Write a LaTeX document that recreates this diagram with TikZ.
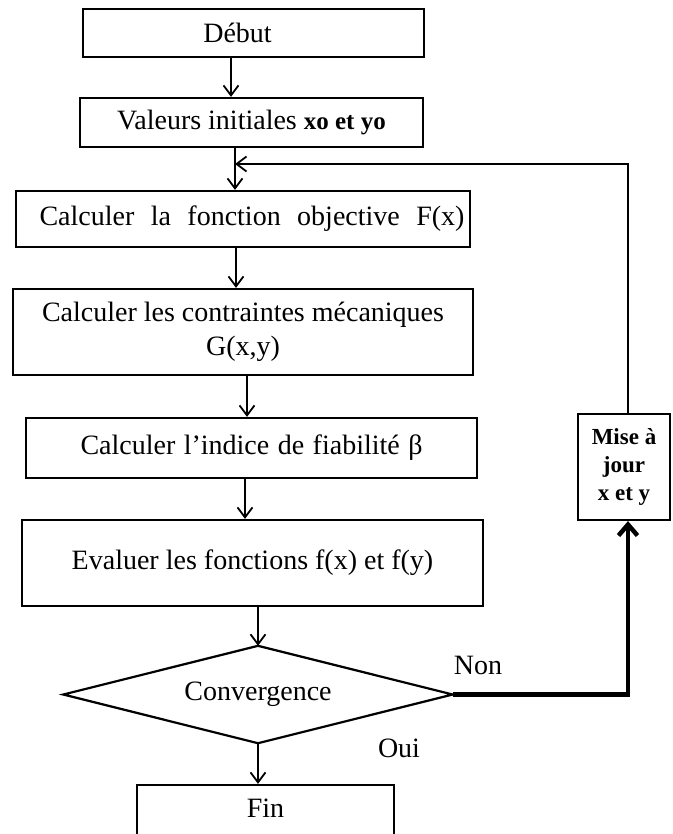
\documentclass[tikz,border=0pt]{standalone}
\usepackage{fontspec}
\setmainfont{Liberation Serif}
\usetikzlibrary{arrows.meta}
\begin{document}
\begin{tikzpicture}[x=1pt,y=-1pt,
  box/.style={draw,line width=2.2pt,rectangle,inner sep=0pt,font=\fontsize{28}{34}\selectfont,align=center},
  decision/.style={rectangle,inner sep=0pt,font=\fontsize{28}{34}\selectfont},
  lbl/.style={inner sep=0pt,font=\fontsize{28}{34}\selectfont},
  arr/.style={line width=1.8pt,-{Straight Barb[length=10pt,width=15pt]}},
  thickarr/.style={line width=4.5pt,-{Straight Barb[length=11pt,width=19pt]}}]
\useasboundingbox (0,0) rectangle (672,834);
\clip (0,0) rectangle (672,834);
\fill[white] (0,0) rectangle (672,834);

\node[box, minimum width=341pt, minimum height=48pt] (deb) at (253.5,33) {\hspace*{-32pt}Début};
\node[box, minimum width=343pt, minimum height=49pt] (val) at (251.5,122.5) {Valeurs initiales {\bfseries\fontsize{25}{30}\selectfont xo et yo}};
\node[box, minimum width=454pt, minimum height=56pt] (obj) at (243,219) {\hspace*{18pt}\makebox[425pt][s]{Calculer la fonction objective F(x)}};
\node[box, minimum width=460pt, minimum height=86pt] (con) at (243,332) {Calculer les contraintes mécaniques\\G(x,y)};
\node[box, minimum width=451pt, minimum height=60pt] (ind) at (251.5,448) {\makebox[342pt][s]{Calculer l’indice de fiabilité β}};
\node[box, minimum width=461pt, minimum height=86pt] (eva) at (252.5,563) {Evaluer les fonctions f(x) et f(y)};
\node[decision, minimum width=389pt, minimum height=97pt] (dia) at (258,694.5) {Convergence};
\draw[line width=2.2pt, line join=miter] (dia.north) -- (dia.east) -- (dia.south) -- (dia.west) -- cycle;
\node[box, minimum width=257pt, minimum height=60pt, text depth=14pt] (fin) at (265.5,815) {Fin};
\node[box, minimum width=92pt, minimum height=106pt, font=\bfseries\fontsize{23}{28}\selectfont] (mise) at (624,467) {Mise à\\jour\\x et y};

\node[lbl] (non) at (478,665) {Non};
\node[lbl] (oui) at (399,748) {Oui};

\coordinate (k1) at (231,0);
\coordinate (k2) at (235,0);
\coordinate (k3) at (236,0);
\coordinate (k4) at (247,0);
\coordinate (k5) at (245,0);
\coordinate (k9) at (628,0);
\coordinate (j) at (235,164);

\draw[arr] (deb.south -| k1) -- (val.north -| k1);
\draw[arr] (val.south -| k2) -- (obj.north -| k2);
\draw[arr] (obj.south -| k3) -- (con.north -| k3);
\draw[arr] (con.south -| k4) -- (ind.north -| k4);
\draw[arr] (ind.south -| k5) -- (eva.north -| k5);
\draw[arr] (eva.south -| dia.north) -- (dia.north);
\draw[arr] (dia.south) -- (fin.north -| dia.south);
\draw[thickarr] (dia.east) -| (mise.south -| k9);
\draw[arr] (mise.north -| k9) |- (j);
\end{tikzpicture}
\end{document}
